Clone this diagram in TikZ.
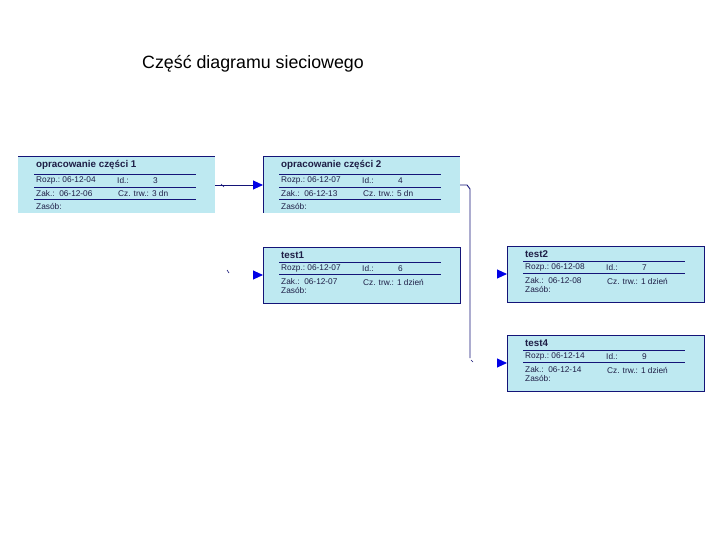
\documentclass[tikz,border=0pt]{standalone}
\usepackage{fontspec}
\setmainfont{Liberation Sans}
\usetikzlibrary{arrows.meta}
\definecolor{boxfill}{RGB}{190,233,241}
\definecolor{navy}{RGB}{20,20,120}
\definecolor{arr}{RGB}{0,0,230}
\definecolor{txtc}{RGB}{30,30,70}

\newcommand\taskrowsA[6]{% node, title, rozp, id, zak, czas
  \node[ttl] (#1-t) at ([shift={(18,8)}]#1.north west) {#2};
  \draw[sep] ([shift={(16,17)}]#1.north west) -- ([shift={(178,17)}]#1.north west);
  \node[rowt] (#1-r) at ([shift={(18,23.5)}]#1.north west) {Rozp.:\ #3};
  \node[rowt] (#1-i) at ([shift={(99,23.5)}]#1.north west) {Id.:};
  \node[rowt] (#1-iv) at ([shift={(135,23.5)}]#1.north west) {#4};
  \draw[sep] ([shift={(16,30)}]#1.north west) -- ([shift={(178,30)}]#1.north west);
  \node[rowt] (#1-z) at ([shift={(18,36.5)}]#1.north west) {Zak.:\ \ #5};
  \node[rowt] (#1-c) at ([shift={(100,36.5)}]#1.north west) {Cz. trw.: #6};
  \draw[sep] ([shift={(16,42)}]#1.north west) -- ([shift={(178,42)}]#1.north west);
  \node[rowt] (#1-s) at ([shift={(18,49)}]#1.north west) {Zasób:};
}
\newcommand\taskrowsB[6]{% node, title, rozp, id, zak, czas
  \node[ttl] (#1-t) at ([shift={(18,8)}]#1.north west) {#2};
  \draw[sep] ([shift={(16,15)}]#1.north west) -- ([shift={(178,15)}]#1.north west);
  \node[rowt] (#1-r) at ([shift={(18,21.5)}]#1.north west) {Rozp.:\ #3};
  \node[rowt] (#1-i) at ([shift={(99,21.5)}]#1.north west) {Id.:};
  \node[rowt] (#1-iv) at ([shift={(135,21.5)}]#1.north west) {#4};
  \draw[sep] ([shift={(16,27.5)}]#1.north west) -- ([shift={(178,27.5)}]#1.north west);
  \node[rowt] (#1-z) at ([shift={(18,35)}]#1.north west) {Zak.:\ \ #5};
  \node[rowt] (#1-c) at ([shift={(100,35)}]#1.north west) {Cz. trw.: #6};
  \node[rowt] (#1-s) at ([shift={(18,43.5)}]#1.north west) {Zasób:};
}

\begin{document}
\begin{tikzpicture}[x=1pt,y=-1pt,
  boxbg/.style={fill=boxfill, minimum width=197pt, minimum height=56pt, anchor=north west, inner sep=0pt, outer sep=0pt},
  fullbox/.style={boxbg, draw=navy, line width=1pt},
  ttl/.style={anchor=west, inner sep=0pt, font=\fontsize{9.8}{12}\selectfont\bfseries, text=txtc},
  rowt/.style={anchor=west, inner sep=0pt, font=\fontsize{8.3}{10}\selectfont, text=txtc},
  sep/.style={draw=navy, line width=0.9pt},
  conn/.style={draw=navy, line width=0.9pt},
  tip/.style={-{Triangle[length=10pt,width=9pt,color=arr]}},
  tick/.style={draw=navy, line width=0.6pt}
]
\useasboundingbox[fill=white] (0,0) rectangle (720,540);

\node[anchor=west, inner sep=0pt, font=\fontsize{17.8}{21}\selectfont] (title) at (142,64) {Część diagramu sieciowego};

% top boxes (clipped at bottom)
\node[boxbg] (b1) at (18,157) {};
\draw[navy, line width=1pt] (b1.north west) -- (b1.north east);
\node[boxbg] (b2) at (263,157) {};
\draw[navy, line width=1pt] (b2.south west) -- (b2.north west) -- (b2.north east);
\taskrowsA{b1}{opracowanie części 1}{06-12-04}{3}{06-12-06}{3 dn}
\taskrowsA{b2}{opracowanie części 2}{06-12-07}{4}{06-12-13}{5 dn}

% test boxes
\node[fullbox] (t1) at (263,247) {};
\node[fullbox] (t2) at (507,246) {};
\node[fullbox] (t4) at (507,335) {};
\taskrowsB{t1}{test1}{06-12-07}{6}{06-12-07}{1 dzień}
\taskrowsB{t2}{test2}{06-12-08}{7}{06-12-08}{1 dzień}
\taskrowsB{t4}{test4}{06-12-14}{9}{06-12-14}{1 dzień}

% connectors
\draw[conn, tip] (b1.east) -- (b2.west);
\draw[tick] (221,184) -- (224,187);

\coordinate (a1) at ([xshift=-10pt]t1.west);
\draw[conn, tip] (a1) -- (t1.west);
\draw[tick] (227,270) -- (229,273);

\coordinate (k1) at (467,185);
\coordinate (k2) at (470,189);
\coordinate (k3) at (470,358);
\draw[conn] (b2.east) -- (k1) -- (k2) -- (k3);
\draw[tick] (471,360) -- (473,362);
\coordinate (a2) at ([xshift=-10pt]t2.west);
\draw[conn, tip] (a2) -- (t2.west);
\coordinate (a4) at ([xshift=-10pt]t4.west);
\draw[conn, tip] (a4) -- (t4.west);
\end{tikzpicture}
\end{document}
